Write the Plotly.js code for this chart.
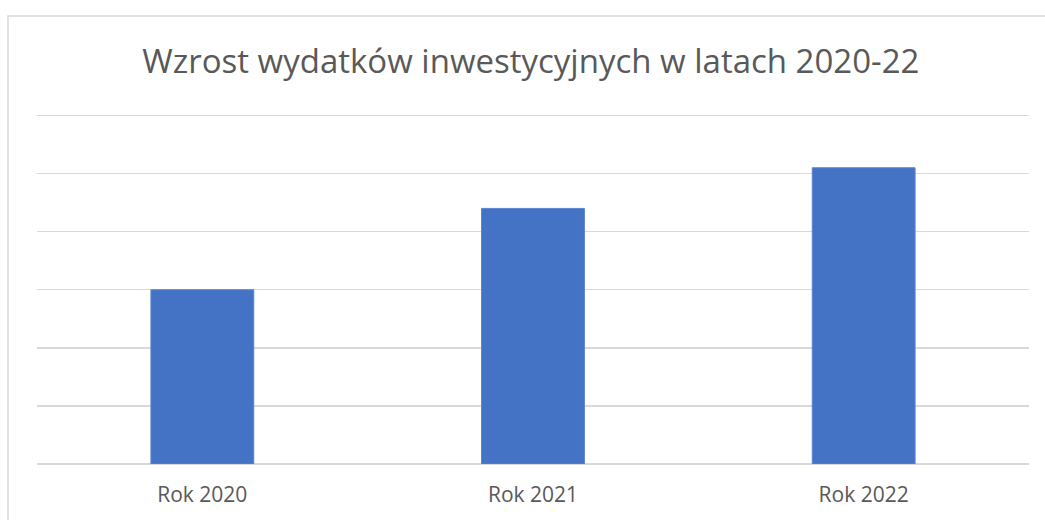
<!DOCTYPE html>
<html>
<head>
<meta charset="utf-8">
<script src="https://cdn.plot.ly/plotly-3.0.1.min.js"></script>
<style>html,body{margin:0;padding:0;background:#fff;}#chart{width:1045px;height:520px;}</style>
</head>
<body>
<div id="chart"></div>
<script>
const categories = ["Rok 2020", "Rok 2021", "Rok 2022"];
const values = [3.0, 4.4, 5.1];
const chartTitle = "Wzrost wydatków inwestycyjnych w latach 2020-22";

const trace = {
  type: "bar",
  x: categories,
  y: values,
  marker: {color: "#4472C4", line: {color: "#5a84cf", width: 1}},
  hoverinfo: "x+y"
};

const layout = {
  width: 1045, height: 520,
  margin: {l: 37, r: 16, t: 112, b: 56},
  paper_bgcolor: "#ffffff",
  plot_bgcolor: "#ffffff",
  bargap: 0.689,
  showlegend: false,
  title: {
    text: chartTitle,
    font: {family: "Open Sans, sans-serif", size: 33, color: "#595959"},
    x: 0.508, xanchor: "center",
    yref: "container", y: 1 - 61/520, yanchor: "middle"
  },
  xaxis: {
    type: "category",
    showgrid: false, zeroline: false, showline: false,
    ticks: "",
    ticklabelstandoff: 16,
    tickfont: {family: "Open Sans, sans-serif", size: 21, color: "#595959"},
    fixedrange: true
  },
  yaxis: {
    range: [0, 6.06], dtick: 1, tick0: 0,
    showticklabels: false,
    showgrid: true, gridcolor: "#d9d9d9", gridwidth: 1.5,
    zeroline: true, zerolinecolor: "#d9d9d9", zerolinewidth: 1.5,
    showline: false, ticks: "",
    fixedrange: true
  },
  shapes: [{
    type: "rect", layer: "below",
    xref: "paper", yref: "paper",
    x0: (8 - 37) / 992, x1: (1060 - 37) / 992,
    y0: (464 - 540) / 352, y1: (464 - 16) / 352,
    line: {color: "#d9d9d9", width: 1.5},
    fillcolor: "rgba(0,0,0,0)"
  }]
};

Plotly.newPlot("chart", [trace], layout, {displayModeBar: false, staticPlot: true});
</script>
</body>
</html>
